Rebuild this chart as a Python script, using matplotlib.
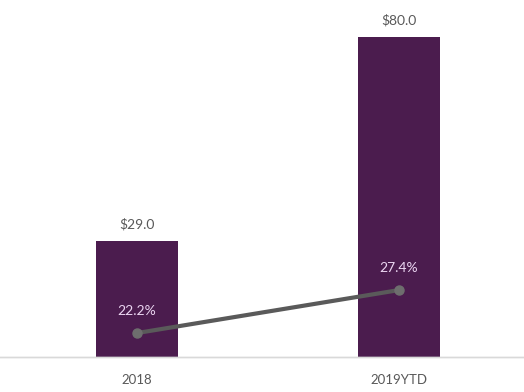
import numpy as np
import matplotlib as mpl
from matplotlib import pyplot as plt

mpl.rcParams['font.family'] = ['Lato', 'DejaVu Sans']

categories = ['2018', '2019YTD']
revenue = [29.0, 80.0]          # bar values, $
margin = [22.2, 27.4]           # line values, %

barColor = '#4b1c4e'
lineColor = '#5a5a5a'

f = plt.figure(figsize = (5.24, 3.92), dpi = 100)
ax1 = f.add_axes([0.0, 0.0893, 1.0, 0.898])
ax2 = ax1.twinx()

x = np.arange(len(categories))
ax1.bar(x, revenue, width = 0.31, color = barColor, zorder = 2)
for xi, v in zip(x, revenue):
    ax1.text(xi, v + 2.6, '$%.1f' % v, ha = 'center', va = 'bottom',
             fontsize = 10, color = '#595959')

ax2.plot(x, margin, color = lineColor, lw = 3.0, marker = 'o', ms = 6.5,
         markerfacecolor = '#6e6e6e', markeredgecolor = '#6e6e6e', zorder = 3)
for xi, v in zip(x, margin):
    ax2.text(xi, v + 1.9, '%.1f%%' % v, ha = 'center', va = 'bottom',
             fontsize = 10, color = '#ecd6f2')

ax1.set_xlim(-0.523, 1.477)
ax1.set_ylim(0, 88)
ax2.set_ylim(19.3, 61.9)

ax1.set_xticks(x)
ax1.set_xticklabels(categories, fontsize = 9.5, color = '#595959')
ax1.tick_params(axis = 'x', length = 0, pad = 12)
ax1.set_yticks([])
ax2.set_yticks([])

for ax in (ax1, ax2):
    for side in ('top', 'left', 'right'):
        ax.spines[side].set_visible(False)
    ax.spines['bottom'].set_color('#d9d9d9')
    ax.spines['bottom'].set_linewidth(1.0)
    ax.patch.set_visible(False)

f.savefig('out.png', dpi = 100)
plt.close()
